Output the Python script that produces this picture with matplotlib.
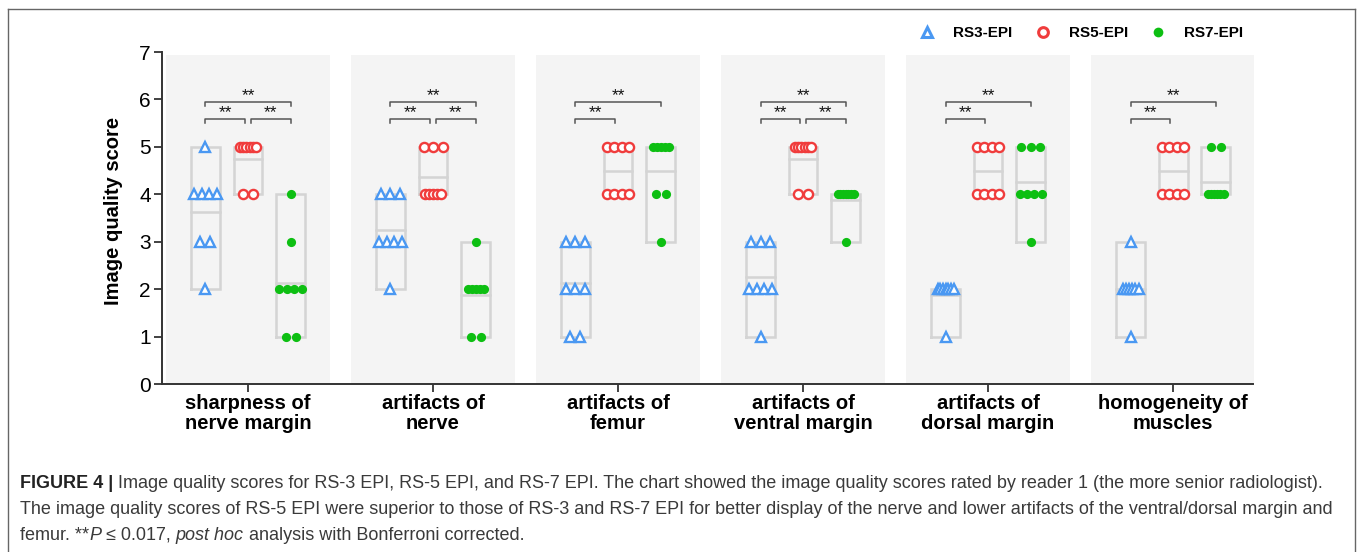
import matplotlib
matplotlib.use("Agg")
import matplotlib.pyplot as plt
from matplotlib.lines import Line2D
from matplotlib import font_manager
import numpy as np

# ---- data -------------------------------------------------------------
categories = ["sharpness of\nnerve margin", "artifacts of\nnerve", "artifacts of\nfemur",
              "artifacts of\nventral margin", "artifacts of\ndorsal margin", "homogeneity of\nmuscles"]
series_names = ["RS3-EPI", "RS5-EPI", "RS7-EPI"]

rs3_scores = [[5, 4, 4, 4, 4, 3, 3, 2],
              [4, 4, 4, 3, 3, 3, 3, 2],
              [3, 3, 3, 2, 2, 2, 1, 1],
              [3, 3, 3, 2, 2, 2, 2, 1],
              [2, 2, 2, 2, 2, 2, 2, 1],
              [3, 2, 2, 2, 2, 2, 2, 1]]
rs5_scores = [[5, 5, 5, 5, 5, 5, 4, 4],
              [5, 5, 5, 4, 4, 4, 4, 4],
              [5, 5, 5, 5, 4, 4, 4, 4],
              [5, 5, 5, 5, 5, 5, 4, 4],
              [5, 5, 5, 5, 4, 4, 4, 4],
              [5, 5, 5, 5, 4, 4, 4, 4]]
rs7_scores = [[4, 3, 2, 2, 2, 2, 1, 1],
              [3, 2, 2, 2, 2, 2, 1, 1],
              [5, 5, 5, 5, 5, 4, 4, 3],
              [4, 4, 4, 4, 4, 4, 4, 3],
              [5, 5, 5, 4, 4, 4, 4, 3],
              [5, 5, 4, 4, 4, 4, 4, 4]]

# significant pairwise comparisons (series index pairs) per category
sig_pairs = [[(0, 2), (0, 1), (1, 2)],
             [(0, 2), (0, 1), (1, 2)],
             [(0, 2), (0, 1)],
             [(0, 2), (0, 1), (1, 2)],
             [(0, 2), (0, 1)],
             [(0, 2), (0, 1)]]
sig_label = "**"

caption_lines = [
    [("FIGURE 4 | ", "bold", "normal"),
     ("Image quality scores for RS-3 EPI, RS-5 EPI, and RS-7 EPI. The chart showed the image quality scores "
      "rated by reader 1 (the more senior radiologist).", "normal", "normal")],
    [("The image quality scores of RS-5 EPI were superior to those of RS-3 and RS-7 EPI for better display "
      "of the nerve and lower artifacts of the ventral/dorsal margin and", "normal", "normal")],
    [("femur. **", "normal", "normal"), ("P", "normal", "italic"), (" \u2264 0.017, ", "normal", "normal"),
     ("post hoc", "normal", "italic"), (" analysis with Bonferroni corrected.", "normal", "normal")],
]

# ---- styling ----------------------------------------------------------
W, H, DPI = 1358, 552, 100
FONT = "Liberation Sans"
available = {f.name for f in font_manager.fontManager.ttflist}
CAP_FONT = "Liberation Sans Narrow" if "Liberation Sans Narrow" in available else FONT
plt.rcParams["font.family"] = [FONT, "DejaVu Sans"]

colors = ["#4a98f2", "#f03c3c", "#0dbf12"]
markers = ["^", "o", "o"]
filled = [False, False, True]
group_offsets = [-0.23, 0.0, 0.23]
box_half = 0.078
px_per_unit = 185.0

fig = plt.figure(figsize=(W / DPI, H / DPI), dpi=DPI)
ax = fig.add_axes([162 / W, 168 / H, 1091 / W, 332 / H])
ax.set_xlim(-0.465, 5.432)
ax.set_ylim(0, 7)

# shaded panels
for i in range(len(categories)):
    ax.fill_between([i - 0.443, i + 0.443], 0, 6.93, color="#f4f4f4", lw=0, zorder=0)


def swarm_offsets(n):
    if n <= 1:
        return np.zeros(max(n, 0))
    step_px = {2: 10.0, 3: 9.5, 4: 7.4}.get(n, 16.0 / (n - 1))
    return (np.arange(n) - (n - 1) / 2) * step_px / px_per_unit


all_series = [rs3_scores, rs5_scores, rs7_scores]
for s, scores in enumerate(all_series):
    for i, vals in enumerate(scores):
        vals = np.asarray(vals, dtype=float)
        xc = i + group_offsets[s]
        lo, hi, mean = vals.min(), vals.max(), vals.mean()
        # floating bar: min..max with a line at the mean
        ax.plot([xc - box_half, xc + box_half, xc + box_half, xc - box_half, xc - box_half],
                [lo, lo, hi, hi, lo], color="#d4d4d4", lw=1.8, zorder=2, solid_joinstyle="miter")
        ax.plot([xc - box_half, xc + box_half], [mean, mean], color="#d4d4d4", lw=1.8, zorder=2)
        for v in np.unique(vals):
            n = int((vals == v).sum())
            xs = xc + swarm_offsets(n)
            ax.plot(xs, np.full(n, v), linestyle="none", marker=markers[s],
                    markersize=6.6 if markers[s] == "o" else 7.2,
                    markerfacecolor=colors[s] if filled[s] else "white",
                    markeredgecolor=colors[s], markeredgewidth=0 if filled[s] else 1.7, zorder=3)

# significance brackets
levels = {(0, 2): 5.95, (0, 1): 5.59, (1, 2): 5.59}
inner = 0.016
for i, pairs in enumerate(sig_pairs):
    for a, b in pairs:
        y = levels[(a, b)]
        x1 = i + group_offsets[a] + (inner if a == 1 else 0)
        x2 = i + group_offsets[b] - (inner if b == 1 else 0)
        ax.plot([x1, x1, x2, x2], [y - 0.08, y, y, y - 0.08], color="#555555", lw=1.1, zorder=3)
        ax.text((x1 + x2) / 2, y - 0.03, sig_label, ha="center", va="bottom",
                fontsize=12.5, color="#111111", zorder=4)

# axes styling
for side in ["top", "right"]:
    ax.spines[side].set_visible(False)
for side in ["left", "bottom"]:
    ax.spines[side].set_color("#333333")
    ax.spines[side].set_linewidth(1.4)
ax.set_yticks(range(0, 8))
ax.tick_params(axis="y", labelsize=15, length=6, width=1.3, color="#333333", pad=2)
ax.set_xticks(range(len(categories)))
ax.set_xticklabels(categories, fontsize=14.5, fontweight="bold", linespacing=1.1)
ax.tick_params(axis="x", length=6, width=1.3, color="#333333", pad=1)
ax.set_ylabel("Image quality score", fontsize=14.5, fontweight="bold")
ax.yaxis.set_label_coords(-0.036, 0.52)

# legend
handles = [Line2D([], [], linestyle="none", marker=markers[s], markersize=7,
                  markerfacecolor=colors[s] if filled[s] else "white",
                  markeredgecolor=colors[s], markeredgewidth=0 if filled[s] else 2.2)
           for s in range(3)]
fig.legend(handles, series_names, loc="center left", bbox_to_anchor=(913 / W, 1 - 33 / H),
           ncol=3, frameon=False, prop={"weight": "bold", "size": 11},
           handletextpad=1.2, columnspacing=1.5, handlelength=1.0, borderaxespad=0)

# outer frame
frame_kw = dict(color="#666666", lw=1.0, transform=fig.transFigure)
fig.add_artist(Line2D([8 / W, 8 / W], [1 - 9 / H, -0.1], **frame_kw))
fig.add_artist(Line2D([1355 / W, 1355 / W], [1 - 9 / H, -0.1], **frame_kw))
fig.add_artist(Line2D([8 / W, 1355 / W], [1 - 9 / H, 1 - 9 / H], **frame_kw))

# caption, written run by run
renderer = fig.canvas.get_renderer()


def draw_runs(runs, x_px, y_px, size):
    x = x_px
    for text, weight, style in runs:
        t = fig.text(x / W, 1 - y_px / H, text, fontsize=size, fontweight=weight, fontstyle=style,
                     family=[CAP_FONT, "DejaVu Sans"], color="#222222" if weight == "bold" else "#3a3a3a",
                     va="center", ha="left")
        x += t.get_window_extent(renderer).width
    return x


# pick a caption size so the second line spans the text block width
probe = fig.text(0, 0, caption_lines[1][0][0], fontsize=12, family=[CAP_FONT, "DejaVu Sans"])
probe_w = probe.get_window_extent(renderer).width
probe.remove()
cap_size = 12 * (1316.0 / probe_w)

for line, y in zip(caption_lines, [483, 509, 535]):
    draw_runs(line, 20, y, cap_size)

fig.savefig("out.png", dpi=DPI, facecolor="white")
